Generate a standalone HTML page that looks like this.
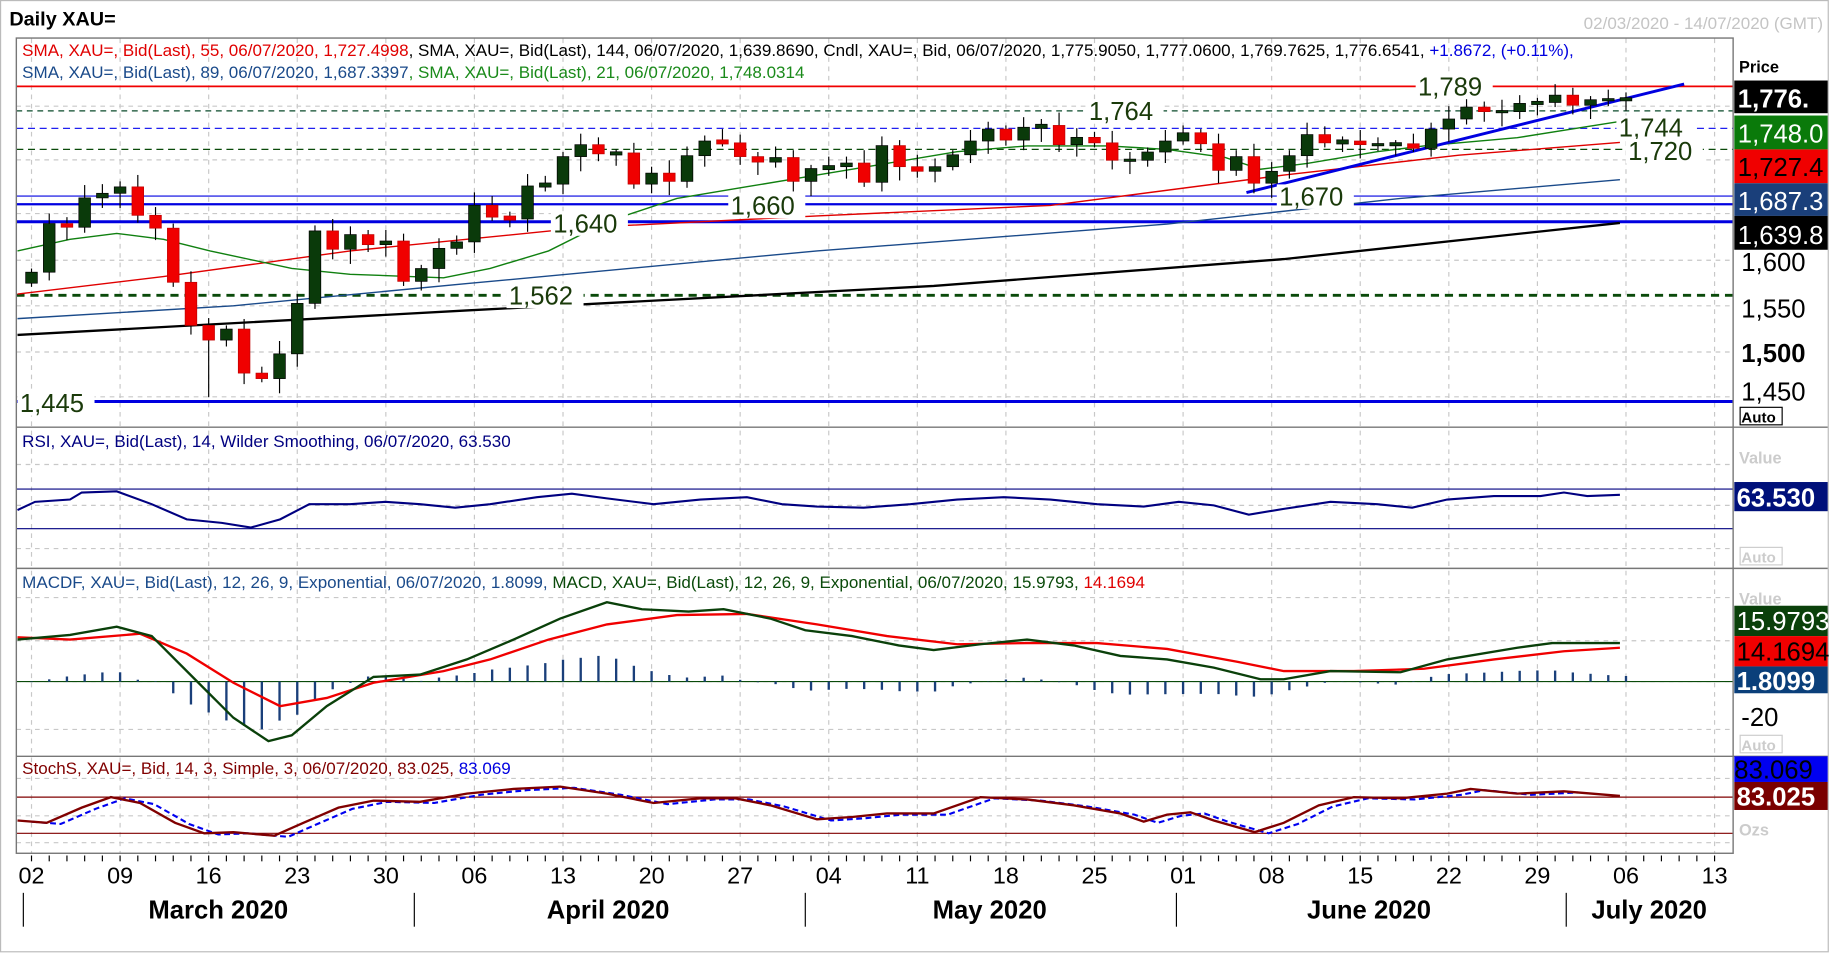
<!DOCTYPE html>
<html><head><meta charset="utf-8"><style>
html,body{margin:0;padding:0;background:#fff;}
svg{display:block;}
text{font-family:"Liberation Sans",sans-serif;}
</style></head><body>
<svg id="s" width="1830" height="954" viewBox="0 0 1568 817.4" preserveAspectRatio="none" xmlns="http://www.w3.org/2000/svg">
<rect x="0.5" y="0.5" width="1566" height="815" fill="#fff" stroke="#bbb"/>
<text x="8" y="22" font-size="17" font-weight="bold">Daily XAU=</text>
<text x="1562" y="25" font-size="14.6" fill="#c4c4c4" text-anchor="end">02/03/2020 - 14/07/2020 (GMT)</text>
<g id="grid"></g>
<g id="lines"></g>
<g id="cand"></g>
<g id="ann"></g>
<g fill="none" stroke="#777" stroke-width="1.2">
<rect x="14" y="32.6" width="1471" height="698.5"/>
<line x1="14" y1="366" x2="1566" y2="366"/>
<line x1="14" y1="487" x2="1566" y2="487"/>
<line x1="14" y1="648" x2="1566" y2="648"/>
</g>
<text x="19" y="48" font-size="14.6"><tspan fill="#e00000">SMA, XAU=, Bid(Last),  55, 06/07/2020, 1,727.4998</tspan><tspan fill="#000">, SMA, XAU=, Bid(Last),  144, 06/07/2020, 1,639.8690, Cndl, XAU=, Bid, 06/07/2020, 1,775.9050, 1,777.0600, 1,769.7625, 1,776.6541, </tspan><tspan fill="#0000e0">+1.8672, (+0.11%),</tspan></text>
<text x="19" y="67" font-size="14.6"><tspan fill="#1a4a8a">SMA, XAU=, Bid(Last),  89, 06/07/2020, 1,687.3397</tspan><tspan fill="#1a8a1a">, SMA, XAU=, Bid(Last),  21, 06/07/2020, 1,748.0314</tspan></text>
<text x="19" y="383" font-size="14.6" fill="#000080">RSI, XAU=, Bid(Last),  14, Wilder Smoothing, 06/07/2020, 63.530</text>
<text x="19" y="504" font-size="14.6"><tspan fill="#1a4a8a">MACDF, XAU=, Bid(Last),  12, 26, 9, Exponential, 06/07/2020, 1.8099, </tspan><tspan fill="#0a4a0a">MACD, XAU=, Bid(Last),  12, 26, 9, Exponential, 06/07/2020, 15.9793, </tspan><tspan fill="#e00000">14.1694</tspan></text>
<text x="19" y="663" font-size="14.6" fill="#800000">StochS, XAU=, Bid,  14, 3, Simple, 3, 06/07/2020, 83.025, <tspan fill="#0000e0">83.069</tspan></text>
<g font-size="22">
<text x="1490" y="62" font-size="14" font-weight="bold">Price</text>
<rect x="1486" y="69" width="80" height="28" fill="#000"/><text x="1489" y="92" fill="#fff" font-weight="bold">1,776.</text>
<rect x="1486" y="99" width="80" height="29" fill="#0a7a0a"/><text x="1489" y="122" fill="#fff">1,748.0</text>
<rect x="1486" y="128" width="80" height="29" fill="#f00000"/><text x="1489" y="151" fill="#000">1,727.4</text>
<rect x="1486" y="157" width="80" height="28" fill="#1a3f7a"/><text x="1489" y="180" fill="#fff">1,687.3</text>
<rect x="1486" y="185" width="80" height="29" fill="#000"/><text x="1489" y="209" fill="#fff">1,639.8</text>
<text x="1492" y="232">1,600</text>
<text x="1492" y="272">1,550</text>
<text x="1492" y="310" font-weight="bold">1,500</text>
<text x="1492" y="343">1,450</text>
<rect x="1491" y="349" width="36" height="15" fill="#fff" stroke="#000"/><text x="1492" y="362" font-size="13" font-weight="bold">Auto</text>
<text x="1490" y="397" font-size="14" font-weight="bold" fill="#ccc">Value</text>
<rect x="1486" y="413" width="80" height="25" fill="#00107a"/><text x="1488" y="434" fill="#fff" font-weight="bold">63.530</text>
<rect x="1491" y="469" width="36" height="15" fill="#fff" stroke="#ccc"/><text x="1492" y="482" font-size="13" font-weight="bold" fill="#ccc">Auto</text>
<text x="1490" y="518" font-size="14" font-weight="bold" fill="#ccc">Value</text>
<rect x="1486" y="519" width="80" height="26" fill="#0a400a"/><text x="1488" y="540" fill="#fff">15.9793</text>
<rect x="1486" y="545" width="80" height="26" fill="#f00000"/><text x="1488" y="566" fill="#000">14.1694</text>
<rect x="1486" y="571" width="80" height="23" fill="#0a3f7a"/><text x="1488" y="591" fill="#fff" font-weight="bold">1.8099</text>
<text x="1492" y="622">-20</text>
<rect x="1491" y="630" width="36" height="15" fill="#fff" stroke="#ccc"/><text x="1492" y="643" font-size="13" font-weight="bold" fill="#ccc">Auto</text>
<rect x="1486" y="648" width="80" height="22" fill="#0000f0"/><text x="1486" y="667" fill="#000">83.069</text>
<rect x="1486" y="670" width="80" height="24" fill="#7a0000"/><text x="1488" y="690" fill="#fff" font-weight="bold">83.025</text>
<text x="1490" y="716" font-size="14" font-weight="bold" fill="#ccc">Ozs</text>
</g>
<g id="xax"></g>
</svg>
<script>
var NS="http://www.w3.org/2000/svg";
function el(p,t,a,txt){var e=document.createElementNS(NS,t);for(var k in a)e.setAttribute(k,a[k]);if(txt!=null)e.textContent=txt;document.getElementById(p).appendChild(e);return e;}
function Y(p){return 223-(p-1600)*0.786;}
var X0=27,DX=15.18;
var wx=[],labs=["02","09","16","23","30","06","13","20","27","04","11","18","25","01","08","15","22","29","06","13"];
for(var i=0;i<20;i++)wx.push(27+i*75.9);
wx.forEach(function(x,i){el("grid","line",{x1:x,y1:33,x2:x,y2:731,stroke:"#c8c8c8","stroke-dasharray":"4,4"});
 el("xax","text",{x:x,y:757,"font-size":"20","text-anchor":"middle"},labs[i]);});
[91,137,183,223,262,301.6,340,398,433,470,512,549,584,625,667,699,722].forEach(function(y){el("grid","line",{x1:14,y1:y,x2:1485,y2:y,stroke:"#c8c8c8","stroke-dasharray":"4,4"});});
for(var i=0;i<96;i++){var x=27+i*DX;el("xax","line",{x1:x,y1:733,x2:x,y2:738,stroke:"#000"});}
[20,355,690,1008,1342].forEach(function(x){el("xax","line",{x1:x,y1:765,x2:x,y2:794,stroke:"#000"});});
[["March 2020",187],["April 2020",521],["May 2020",848],["June 2020",1173],["July 2020",1413]].forEach(function(m){el("xax","text",{x:m[1],y:787,"font-size":"22","font-weight":"bold","text-anchor":"middle"},m[0]);});
function hl(y,c,w,d){var a={x1:14,y1:y,x2:1485,y2:y,stroke:c,"stroke-width":w};if(d)a["stroke-dasharray"]=d;el("lines","line",a);}
hl(74,"#f00000",1.5);hl(95,"#0a4a2a",1,"5,4");hl(110,"#2020f0",1,"6,4");hl(128,"#0a4a0a",1,"6,4");
hl(168,"#0000e0",1);hl(175,"#0000e0",2);hl(190,"#0000e0",2.5);hl(253,"#0a4a0a",2.5,"7,5");hl(344,"#0000e0",2.5);
hl(419,"#000080",1);hl(453,"#000080",1);hl(584,"#0a4a0a",1);hl(683,"#800000",1);hl(714,"#800000",1);
function pl(pts,c,w,d,par){var a={points:pts.map(function(p){return p.join(",")}).join(" "),fill:"none",stroke:c,"stroke-width":w};if(d)a["stroke-dasharray"]=d;el(par||"lines","polyline",a);}
pl([[15,287],[400,266],[800,245],[1100,222],[1388,191]],"#000",2);
pl([[15,273],[200,262],[400,243],[700,215],[1000,192],[1200,170],[1388,154]],"#1a4a8a",1.2);
pl([[15,252],[140,237],[300,215],[500,195],[700,185],[900,176],[1100,150],[1250,133],[1388,122]],"#e00000",1.2);
pl([[15,215],[60,205],[100,200],[140,205],[180,215],[250,230],[300,235],[380,238],[420,230],[470,215],[520,190],[580,170],[640,160],[700,150],[760,140],[820,130],[880,125],[950,125],[1000,128],[1050,135],[1080,145],[1120,140],[1180,130],[1220,125],[1300,118],[1388,104]],"#108010",1.2);
pl([[1068,165],[1443,72]],"#0000e0",2.5);
var C=[1587,1640,1636,1668,1673,1680,1649,1635,1576,1529,1513,1525,1477,1471,1498,1553,1632,1612,1628,1617,1621,1577,
1591,1613,1620,1660,1647,1645,1681,1683,1713,1726,1716,1717,1683,1695,1686,1714,1730,1728,1713,1707,1712,1686,
1700,1702,1706,1685,1725,1702,1697,1702,1715,1730,1743,1731,1745,1747,1726,1734,1728,1709,1709,1718,1730,
1739,1727,1698,1713,1684,1697,1714,1737,1728,1730,1726,1726,1727,1722,1743,1754,1767,1762,1762,1771,1772,1780,1769,1775,1775,1776];
var prev=1575;
C.forEach(function(c,i){var o=prev;prev=c;var x=X0+i*DX-5;var hi=Math.max(o,c)+4+(i*7%11),lo=Math.min(o,c)-4-(i*5%13);
 if(i==10)lo=1451;if(i==14)lo=1455;
 var col=c>=o?"#0a3a0a":"#f00000";
 el("cand","line",{x1:x+5,y1:Y(hi),x2:x+5,y2:Y(lo),stroke:"#000","stroke-width":1});
 var t=Y(Math.max(o,c)),b=Y(Math.min(o,c));if(b-t<2){t-=1;b+=1;}
 el("cand","rect",{x:x,y:t,width:10,height:b-t,fill:col,stroke:col=="#f00000"?"#c00000":"#000","stroke-width":0.6});});
[["1,789",1215,82],["1,764",933,103],["1,744",1387,117],["1,720",1395,137],["1,640",474,199],["1,660",626,184],["1,670",1096,176],["1,562",436,261],["1,445",17,353]].forEach(function(a){
 el("ann","rect",{x:a[1]-2,y:a[2]-18,width:66,height:21,fill:"#fff"});
 el("ann","text",{x:a[1],y:a[2],"font-size":"22",fill:"#1a3a0a"},a[0]);});
pl([[15,437],[30,430],[60,428],[70,422],[100,421],[130,432],[160,445],[190,448],[215,452],[240,445],[265,432],[300,432],[330,430],[360,432],[390,435],[420,432],[460,426],[490,423],[520,427],[560,432],[600,428],[640,426],[670,432],[700,434],[740,435],[780,432],[820,428],[860,426],[900,428],[940,432],[980,434],[1010,430],[1040,433],[1070,441],[1100,436],[1140,430],[1180,432],[1210,435],[1240,428],[1280,425],[1320,425],[1340,422],[1360,425],[1388,424]],"#000080",1.8);
var M=[[15,548],[60,544],[100,537],[130,545],[170,585],[200,615],[230,635],[250,630],[280,605],[320,580],[360,578],[400,565],[440,548],[480,530],[520,516],[550,522],[590,524],[620,522],[660,530],[690,540],[730,545],[770,553],[800,557],[840,552],[880,548],[920,553],[960,562],[1000,565],[1040,572],[1080,582],[1100,582],[1140,575],[1200,576],[1240,565],[1300,555],[1330,551],[1388,551]];
var S=[[15,546],[60,548],[120,543],[160,560],[200,585],[240,605],[280,598],[320,585],[380,575],[420,565],[470,548],[520,535],[580,527],[640,526],[700,535],[760,545],[820,552],[880,551],[940,551],[1000,556],[1060,567],[1100,575],[1160,575],[1220,573],[1280,565],[1340,558],[1388,555]];
function ip(P,x){for(var i=1;i<P.length;i++)if(x<=P[i][0]){var a=P[i-1],b=P[i];return a[1]+(b[1]-a[1])*(x-a[0])/(b[0]-a[0]);}return P[P.length-1][1];}
for(var i=0;i<91;i++){var x=X0+i*DX;var h=(ip(S,x)-ip(M,x))*1.2;el("lines","line",{x1:x,y1:584,x2:x,y2:584-h,stroke:"#1a3f7a","stroke-width":2});}
pl(S,"#f00000",2);pl(M,"#0a400a",2);
var K=[[15,703],[40,705],[70,692],[95,683],[120,688],[150,705],[175,714],[200,713],[235,716],[260,705],[290,692],[320,686],[360,687],[400,680],[440,676],[480,674],[520,680],[560,688],[600,684],[630,684],[660,690],[700,702],[730,700],[760,697],[800,697],[840,683],[880,685],[920,690],[960,697],[980,704],[1000,698],[1020,696],[1040,703],[1075,713],[1100,705],[1130,690],[1160,683],[1200,684],[1240,680],[1260,676],[1300,680],[1340,678],[1388,682]];
pl(K.map(function(p){return [p[0]+12,p[1]+1]}).filter(function(p){return p[0]<=1388}),"#0000f0",1.8,"5,3");
pl(K,"#800000",2);
</script>
</body></html>
